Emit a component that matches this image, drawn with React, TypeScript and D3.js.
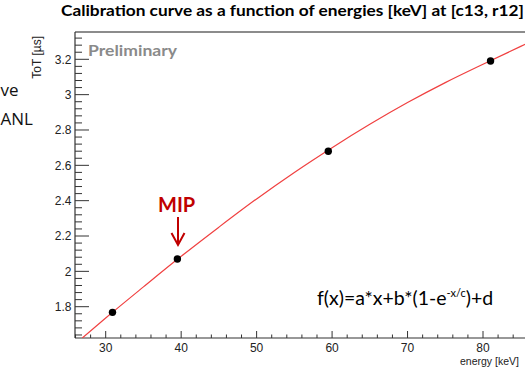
import React from "react";
import * as d3 from "d3";

const energies = [30.9, 39.5, 59.5, 81.0];
const tot = [1.768, 2.07, 2.68, 3.19];
const totErr = [0.008, 0.008, 0.015, 0.01];

const fitX = [26.9, 30, 35, 40, 45, 50, 55, 60, 65, 70, 75, 80, 85, 90];
const fitY = [1.623, 1.736, 1.912, 2.085, 2.25, 2.41, 2.56, 2.7, 2.832, 2.955, 3.068, 3.172, 3.273, 3.37];

const xTickValues = [30, 40, 50, 60, 70, 80];
const xTickLabels = ["30", "40", "50", "60", "70", "80"];
const yTickValues = [1.8, 2.0, 2.2, 2.4, 2.6, 2.8, 3.0, 3.2];
const yTickLabels = ["1.8", "2", "2.2", "2.4", "2.6", "2.8", "3", "3.2"];

const title = "Calibration curve as a function of energies [keV] at [c13, r12]";

export default function App() {
  const W = 525, H = 368;
  const left = 75, top = 32, bottom = 338;
  const x = d3.scaleLinear().domain([30, 80]).range([105.7, 483]);
  const y = d3.scaleLinear().domain([1.8, 3.2]).range([306.7, 59.3]);
  const xMin = x.invert(left);
  const xMax = x.invert(560);
  const yMin = y.invert(bottom);
  const yMax = y.invert(top);
  const right = x(xMax);

  const xMinor = d3.range(Math.ceil(xMin / 2) * 2, xMax, 2).filter((v) => v % 10 !== 0);
  const yMinor = d3
    .range(Math.ceil(yMin / 0.04), Math.floor(yMax / 0.04) + 1)
    .map((i) => +(i * 0.04).toFixed(2))
    .filter((v) => Math.abs(v / 0.2 - Math.round(v / 0.2)) > 1e-6);

  const line = d3
    .line<number>()
    .x((_, i) => x(fitX[i]))
    .y((d) => y(d))
    .curve(d3.curveMonotoneX);

  const axisColor = "#333";
  const font = "'Liberation Sans', Arial, sans-serif";
  const mipColor = "#c00000";
  const arrowX = 178;

  return (
    <svg
      width={W}
      height={H}
      viewBox={`0 0 ${W} ${H}`}
      style={{ position: "absolute", left: 0, top: 0, background: "#fff" }}
    >
      <defs>
        <clipPath id="frame">
          <rect x={left} y={top} width={right - left} height={bottom - top} />
        </clipPath>
      </defs>
      <rect width={W} height={H} fill="#fff" />

      {/* Slide side text */}
      <text x={0.5} y={96} fontFamily="'Open Sans', sans-serif" fontSize={17} fill="#111">ve</text>
      <text x={0.5} y={125} fontFamily="'Open Sans', sans-serif" fontSize={17} fill="#111">ANL</text>

      {/* Title */}
      <text x={61} y={16} fontFamily="Lato, 'Open Sans', sans-serif" fontWeight={700} fontSize={16} fill="#000" textLength={463} lengthAdjust="spacingAndGlyphs">
        {title}
      </text>

      {/* Frame */}
      <line x1={left} y1={top} x2={right} y2={top} stroke="#8c8c8c" strokeWidth={2} />
      <line x1={left} y1={top} x2={left} y2={bottom} stroke={axisColor} strokeWidth={1.2} />
      <line x1={left} y1={bottom} x2={right} y2={bottom} stroke={axisColor} strokeWidth={1.2} />

      {/* X ticks */}
      {xTickValues.map((v, i) => (
        <g key={"xt" + v}>
          <line x1={x(v)} x2={x(v)} y1={bottom} y2={bottom - 7} stroke={axisColor} strokeWidth={1} />
          <text x={x(v)} y={352} textAnchor="middle" fontFamily={font} fontSize={12} fill="#222">
            {xTickLabels[i]}
          </text>
        </g>
      ))}
      {xMinor.map((v) => (
        <line key={"xm" + v} x1={x(v)} x2={x(v)} y1={bottom} y2={bottom - 3.5} stroke={axisColor} strokeWidth={1} />
      ))}
      <text x={460} y={364.5} fontFamily={font} fontSize={10.5} fill="#222">energy [keV]</text>

      {/* Y ticks */}
      {yTickValues.map((v, i) => (
        <g key={"yt" + v}>
          <line x1={left} x2={left + 14} y1={y(v)} y2={y(v)} stroke={axisColor} strokeWidth={1} />
          <text x={71.5} y={y(v) + 4.3} textAnchor="end" fontFamily={font} fontSize={12} fill="#222">
            {yTickLabels[i]}
          </text>
        </g>
      ))}
      {yMinor.map((v) => (
        <line key={"ym" + v} x1={left} x2={left + 7} y1={y(v)} y2={y(v)} stroke={axisColor} strokeWidth={1} />
      ))}
      <text transform="translate(41,36) rotate(-90)" textAnchor="end" fontFamily={font} fontSize={12} fill="#222">
        ToT [µs]
      </text>

      {/* Preliminary */}
      <text x={88} y={56} fontFamily="Lato, 'Open Sans', sans-serif" fontWeight={700} fontSize={15} fill="#8a8a8a" textLength={89} lengthAdjust="spacingAndGlyphs">
        Preliminary
      </text>

      {/* Fit curve */}
      <g clipPath="url(#frame)">
        <path d={line(fitY) || ""} fill="none" stroke="#f04040" strokeWidth={1.2} />
      </g>

      {/* Data points */}
      {energies.map((e, i) => (
        <g key={"p" + i}>
          <line x1={x(e)} x2={x(e)} y1={y(tot[i] - totErr[i])} y2={y(tot[i] + totErr[i])} stroke="#000" strokeWidth={1.5} />
          <circle cx={x(e)} cy={y(tot[i])} r={3.7} fill="#000" />
        </g>
      ))}

      {/* MIP annotation */}
      <text x={158} y={211.7} fontFamily="Lato, 'Open Sans', sans-serif" fontWeight={700} fontSize={20} fill={mipColor}>MIP</text>
      <line x1={arrowX} x2={arrowX} y1={217} y2={244} stroke={mipColor} strokeWidth={2} />
      <polyline points={`${arrowX - 6.5},${233} ${arrowX},${245} ${arrowX + 6.5},${233}`} fill="none" stroke={mipColor} strokeWidth={2} />

      {/* Formula */}
      <text x={317} y={305} fontFamily="Lato, 'Open Sans', sans-serif" fontSize={19.5} fill="#000">
        f(x)=a*x+b*(1-e
        <tspan fontSize={11} dy={-8}>-x/c</tspan>
        <tspan dy={8}>)+d</tspan>
      </text>
    </svg>
  );
}
